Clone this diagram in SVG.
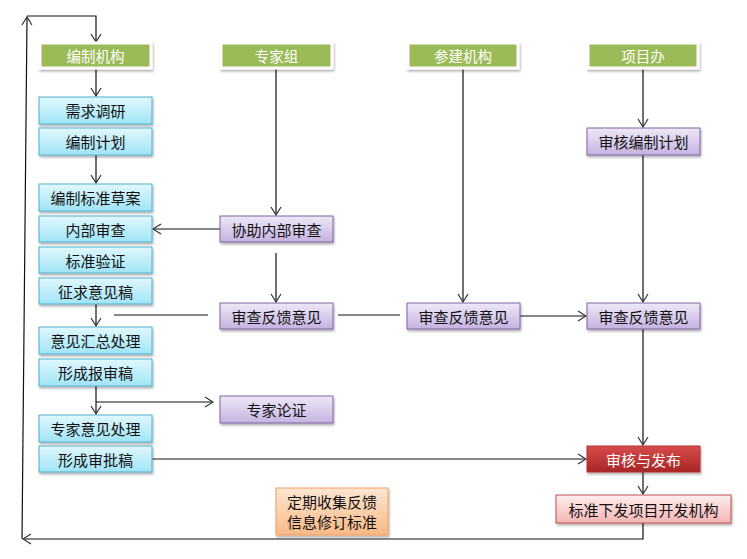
<svg xmlns="http://www.w3.org/2000/svg" width="747" height="559" viewBox="0 0 747 559">
<defs>
<linearGradient id="gb" x1="0" y1="0" x2="0" y2="1"><stop offset="0" stop-color="#e2f8fd"/><stop offset="1" stop-color="#9fe4f6"/></linearGradient>
<linearGradient id="gp" x1="0" y1="0" x2="0" y2="1"><stop offset="0" stop-color="#efe8f7"/><stop offset="1" stop-color="#c4b2e0"/></linearGradient>
<linearGradient id="gr" x1="0" y1="0" x2="0" y2="1"><stop offset="0" stop-color="#d84b4b"/><stop offset="1" stop-color="#a82626"/></linearGradient>
<linearGradient id="gk" x1="0" y1="0" x2="0" y2="1"><stop offset="0" stop-color="#fdeeee"/><stop offset="1" stop-color="#f5b5b5"/></linearGradient>
<linearGradient id="go" x1="0" y1="0" x2="0" y2="1"><stop offset="0" stop-color="#fde6d2"/><stop offset="1" stop-color="#f9b985"/></linearGradient>
<filter id="sh" x="-10%" y="-20%" width="130%" height="160%"><feDropShadow dx="1" dy="2" stdDeviation="1.2" flood-color="#000" flood-opacity="0.3"/></filter>
<marker id="ar" markerWidth="10" markerHeight="12" refX="9" refY="6" orient="auto" markerUnits="userSpaceOnUse"><path d="M1,1 L9,6 L1,11" fill="none" stroke="#333" stroke-width="1.2"/></marker>
</defs>
<style>
text{font-family:"Noto Sans CJK SC","Noto Sans",sans-serif;font-size:15px;text-anchor:middle;dominant-baseline:central}
.hd rect{fill:#9bbb59;stroke:#fff;stroke-width:3;filter:url(#sh)}
.hd text{fill:#fff;font-size:14.5px}
.b rect{fill:url(#gb);stroke:#4fb1cb;stroke-width:1;filter:url(#sh)}
.p rect{fill:url(#gp);stroke:#8064a2;stroke-width:1;filter:url(#sh)}
.r rect{fill:url(#gr);stroke:#b33030;stroke-width:1;filter:url(#sh)}
.r text{fill:#fff}
.k rect{fill:url(#gk);stroke:#c0504d;stroke-width:1;filter:url(#sh)}
.o rect{fill:url(#go);stroke:#f0a060;stroke-width:1;filter:url(#sh)}
text{fill:#111}
.hd text,.r text{fill:#fff}
#conn path,#conn line{fill:none;stroke:#111;stroke-width:1.2}
.a{marker-end:url(#ar)}
</style>
<rect width="747" height="559" fill="#fff"/>
<g id="conn">
<line x1="22" y1="539" x2="27" y2="17" class="a"/>
<path d="M27,16 H96 V42" class="a"/>
<line x1="96" y1="68" x2="96" y2="96" class="a"/>
<line x1="96" y1="155" x2="96" y2="183" class="a"/>
<line x1="276" y1="68" x2="276" y2="215" class="a"/>
<line x1="220" y1="229" x2="153" y2="229" class="a"/>
<line x1="276" y1="253" x2="276" y2="302" class="a"/>
<line x1="208" y1="315" x2="114" y2="315"/>
<line x1="338" y1="315" x2="400" y2="315"/>
<line x1="96" y1="304" x2="96" y2="326" class="a"/>
<line x1="463" y1="68" x2="463" y2="302" class="a"/>
<line x1="520" y1="316" x2="586" y2="316" class="a"/>
<line x1="643" y1="68" x2="643" y2="127" class="a"/>
<line x1="643" y1="155" x2="643" y2="302" class="a"/>
<line x1="643" y1="329" x2="643" y2="445" class="a"/>
<line x1="96" y1="386" x2="96" y2="414" class="a"/>
<line x1="96" y1="402" x2="213" y2="402" class="a"/>
<line x1="152" y1="459" x2="586" y2="459" class="a"/>
<line x1="643" y1="472" x2="643" y2="494" class="a"/>
<path d="M643,523 V539 H23" class="a"/>
</g>
<g id="h1" class="hd"><rect x="40" y="43" width="111" height="25"/><text x="95.5" y="55.5">编制机构</text></g>
<g id="h2" class="hd"><rect x="221" y="43" width="111" height="25"/><text x="276.5" y="55.5">专家组</text></g>
<g id="h3" class="hd"><rect x="408" y="43" width="110" height="25"/><text x="463" y="55.5">参建机构</text></g>
<g id="h4" class="hd"><rect x="588" y="43" width="110" height="25"/><text x="643" y="55.5">项目办</text></g>
<g id="b1" class="b"><rect x="39" y="97" width="113" height="27"/><text x="95.5" y="110.5">需求调研</text></g>
<g id="b2" class="b"><rect x="39" y="128" width="113" height="27"/><text x="95.5" y="141.5">编制计划</text></g>
<g id="b3" class="b"><rect x="39" y="184" width="113" height="27"/><text x="95.5" y="197.5">编制标准草案</text></g>
<g id="b4" class="b"><rect x="39" y="216" width="113" height="26"/><text x="95.5" y="229">内部审查</text></g>
<g id="b5" class="b"><rect x="39" y="247" width="113" height="26"/><text x="95.5" y="260">标准验证</text></g>
<g id="b6" class="b"><rect x="39" y="278" width="113" height="26"/><text x="95.5" y="291">征求意见稿</text></g>
<g id="b7" class="b"><rect x="39" y="327" width="113" height="27"/><text x="95.5" y="340.5">意见汇总处理</text></g>
<g id="b8" class="b"><rect x="39" y="359" width="113" height="27"/><text x="95.5" y="372.5">形成报审稿</text></g>
<g id="b9" class="b"><rect x="39" y="415" width="113" height="27"/><text x="95.5" y="428.5">专家意见处理</text></g>
<g id="b10" class="b"><rect x="39" y="446" width="113" height="26"/><text x="95.5" y="459">形成审批稿</text></g>
<g id="p1" class="p"><rect x="220" y="216" width="113" height="26"/><text x="276.5" y="229">协助内部审查</text></g>
<g id="p2" class="p"><rect x="220" y="303" width="113" height="26"/><text x="276.5" y="316">审查反馈意见</text></g>
<g id="p3" class="p"><rect x="220" y="396" width="113" height="27"/><text x="276.5" y="409.5">专家论证</text></g>
<g id="p4" class="p"><rect x="407" y="303" width="113" height="26"/><text x="463.5" y="316">审查反馈意见</text></g>
<g id="p5" class="p"><rect x="587" y="303" width="113" height="26"/><text x="643.5" y="316">审查反馈意见</text></g>
<g id="p6" class="p"><rect x="587" y="128" width="113" height="27"/><text x="643.5" y="141.5">审核编制计划</text></g>
<g id="r1" class="r"><rect x="587" y="446" width="113" height="26"/><text x="643.5" y="459">审核与发布</text></g>
<g id="k1" class="k"><rect x="556" y="495" width="175" height="28"/><text x="643.5" y="509">标准下发项目开发机构</text></g>
<g id="o1" class="o"><rect x="276" y="488" width="112" height="47"/><text x="332" y="501">定期收集反馈</text><text x="332" y="521">信息修订标准</text></g>
</svg>
